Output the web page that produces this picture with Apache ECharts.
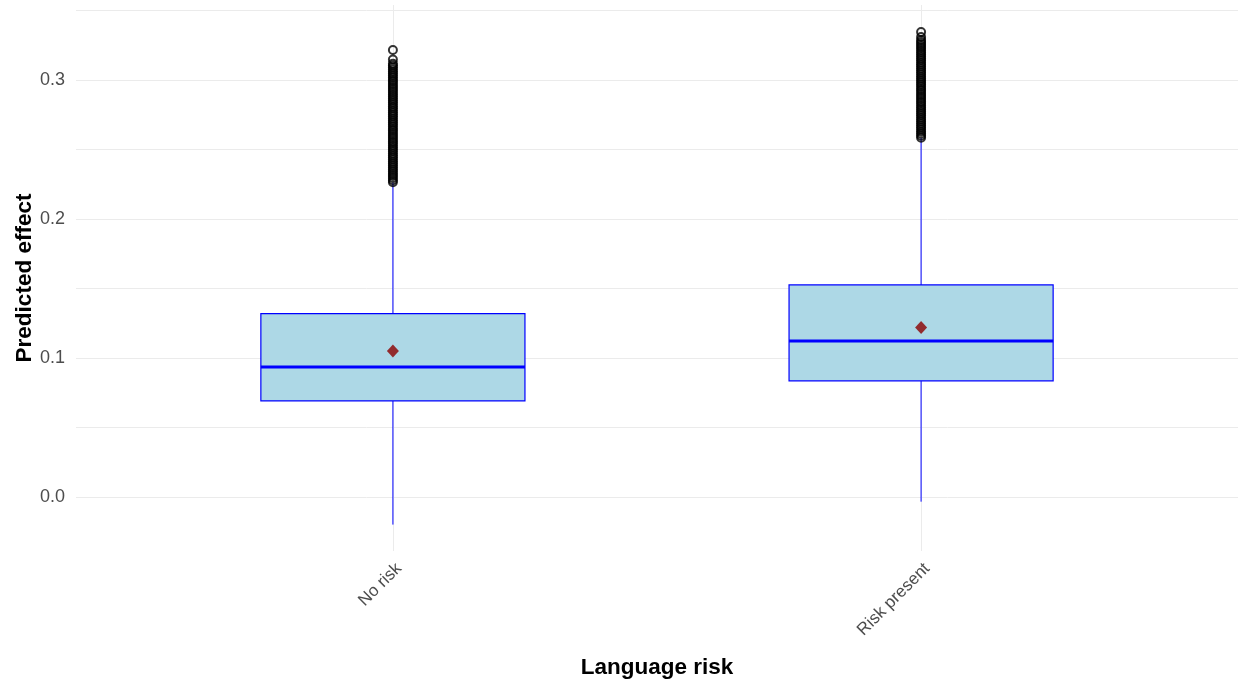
<!DOCTYPE html>
<html>
<head>
<meta charset="utf-8">
<script src="https://cdn.jsdelivr.net/npm/echarts@6/dist/echarts.min.js"></script>
<style>
  html, body { margin: 0; padding: 0; background: #ffffff; }
  #chart { width: 1238px; height: 682px; }
</style>
</head>
<body>
<div id="chart"></div>
<script>
// Groups on the x axis (positions 1 and 2)
const categories = ['No risk', 'Risk present'];

// Box statistics per group: lower whisker, Q1, median, Q3, upper whisker
const whiskerLow = [-0.020, -0.0035];
const quartile1  = [0.0690, 0.0835];
const medians    = [0.0935, 0.1122];
const quartile3  = [0.1318, 0.1525];
const whiskerHigh = [0.2262, 0.2582];

// Group means (diamonds)
const means = [0.1050, 0.1218];

// Points beyond the upper whisker
const outliersNoRisk = [
  0.2265, 0.2279, 0.2294, 0.2310, 0.2323, 0.2339, 0.2354, 0.2368, 0.2383, 0.2398,
  0.2412, 0.2428, 0.2442, 0.2457, 0.2471, 0.2487, 0.2501, 0.2516, 0.2530, 0.2546,
  0.2560, 0.2575, 0.2590, 0.2604, 0.2619, 0.2634, 0.2648, 0.2663, 0.2678, 0.2693,
  0.2707, 0.2722, 0.2737, 0.2751, 0.2766, 0.2781, 0.2796, 0.2810, 0.2825, 0.2840,
  0.2854, 0.2869, 0.2884, 0.2898, 0.2913, 0.2928, 0.2943, 0.2957, 0.2972, 0.2987,
  0.3001, 0.3016, 0.3031, 0.3046, 0.3060, 0.3075, 0.3090, 0.3104, 0.3118, 0.3148,
  0.3216
];
const outliersRiskPresent = [
  0.2585, 0.2599, 0.2614, 0.2628, 0.2643, 0.2658, 0.2672, 0.2687, 0.2702, 0.2716,
  0.2731, 0.2746, 0.2760, 0.2775, 0.2790, 0.2804, 0.2819, 0.2834, 0.2848, 0.2863,
  0.2878, 0.2892, 0.2907, 0.2922, 0.2936, 0.2951, 0.2966, 0.2980, 0.2995, 0.3010,
  0.3024, 0.3039, 0.3054, 0.3068, 0.3083, 0.3098, 0.3112, 0.3127, 0.3142, 0.3156,
  0.3171, 0.3186, 0.3200, 0.3215, 0.3230, 0.3244, 0.3259, 0.3274, 0.3288, 0.3310,
  0.3345
];

// Axis ticks
const yLabelTicks = [0, 0.1, 0.2, 0.3];
const yGridTicks = [0, 0.05, 0.1, 0.15, 0.2, 0.25, 0.3, 0.35];
const xTicks = [1, 2];

const BOX_WIDTH = 0.5;

const boxData = categories.map((c, i) => [i + 1, whiskerLow[i], quartile1[i], medians[i], quartile3[i], whiskerHigh[i]]);
const meanData = means.map((m, i) => [i + 1, m]);
const outlierData = [];
outliersNoRisk.forEach(v => outlierData.push([1, v]));
outliersRiskPresent.forEach(v => outlierData.push([2, v]));

function renderBox(params, api) {
  const x = api.value(0);
  const lo = api.coord([x, api.value(1)]);
  const q1 = api.coord([x, api.value(2)]);
  const md = api.coord([x, api.value(3)]);
  const q3 = api.coord([x, api.value(4)]);
  const hi = api.coord([x, api.value(5)]);
  const half = api.size([BOX_WIDTH, 0])[0] / 2;
  const cx = lo[0];
  const lineStyle = { stroke: '#0000FF', lineWidth: 1 };
  return {
    type: 'group',
    children: [
      { type: 'line', shape: { x1: cx, y1: lo[1], x2: cx, y2: q1[1] }, style: lineStyle },
      { type: 'line', shape: { x1: cx, y1: q3[1], x2: cx, y2: hi[1] }, style: lineStyle },
      { type: 'rect', shape: { x: cx - half, y: q3[1], width: half * 2, height: q1[1] - q3[1] },
        style: { fill: '#ADD8E6', stroke: '#0000FF', lineWidth: 1.2 } },
      { type: 'line', shape: { x1: cx - half, y1: md[1], x2: cx + half, y2: md[1] },
        style: { stroke: '#0000FF', lineWidth: 3 } }
    ]
  };
}

const chart = echarts.init(document.getElementById('chart'), null, { renderer: 'canvas' });
chart.setOption({
  backgroundColor: '#ffffff',
  animation: false,
  grid: { left: 76, right: 0, top: 5, bottom: 131, containLabel: false, outerBoundsMode: 'none' },
  xAxis: {
    type: 'value',
    min: 0.4,
    max: 2.6,
    name: 'Language risk',
    nameLocation: 'middle',
    nameGap: 105,
    nameMoveOverlap: false,
    nameTextStyle: { fontFamily: 'Liberation Sans', fontSize: 22.5, fontWeight: 'bold', color: '#000000' },
    axisLine: { show: false },
    axisTick: { show: false, customValues: xTicks },
    axisLabel: {
      customValues: xTicks,
      rotate: 45,
      margin: 9,
      verticalAlign: 'top',
      fontFamily: 'Liberation Sans',
      fontSize: 17,
      color: '#4D4D4D',
      formatter: v => categories[Math.round(v) - 1] || ''
    },
    splitLine: { show: true, lineStyle: { color: '#EBEBEB', width: 1 } }
  },
  yAxis: {
    type: 'value',
    min: -0.039,
    max: 0.354,
    name: 'Predicted effect',
    nameLocation: 'middle',
    nameGap: 40,
    nameMoveOverlap: false,
    nameTextStyle: { fontFamily: 'Liberation Sans', fontSize: 22.5, fontWeight: 'bold', color: '#000000' },
    axisLine: { show: false },
    axisTick: { show: false, customValues: yGridTicks },
    axisLabel: {
      customValues: yLabelTicks,
      margin: 11,
      fontFamily: 'Liberation Sans',
      fontSize: 18,
      color: '#4D4D4D',
      formatter: v => v.toFixed(1)
    },
    splitLine: { show: true, lineStyle: { color: '#EBEBEB', width: 1 } }
  },
  series: [
    {
      type: 'custom',
      renderItem: renderBox,
      encode: { x: 0, y: [1, 2, 3, 4, 5] },
      data: boxData,
      z: 2
    },
    {
      type: 'scatter',
      data: outlierData,
      symbol: 'circle',
      symbolSize: 8,
      itemStyle: { color: 'rgba(0,0,0,0)', borderColor: '#000000', borderWidth: 2 },
      z: 3
    },
    {
      type: 'scatter',
      data: meanData,
      symbol: 'diamond',
      symbolSize: [12, 13],
      itemStyle: { color: '#8B0000' },
      z: 4
    }
  ]
});
</script>
</body>
</html>
